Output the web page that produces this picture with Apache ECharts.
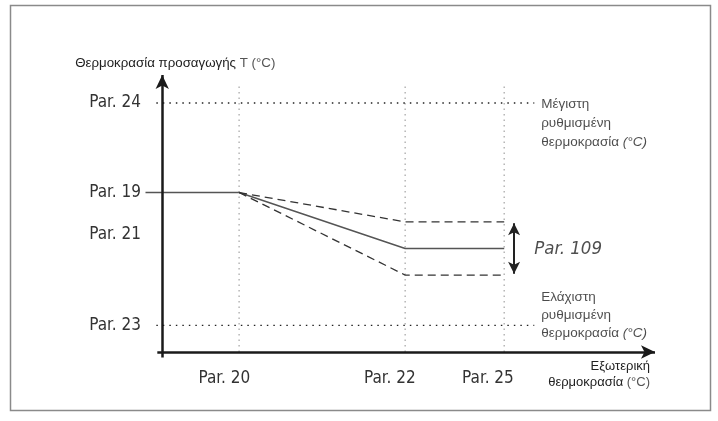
<!DOCTYPE html>
<html>
<head>
<meta charset="utf-8">
<script src="https://cdn.jsdelivr.net/npm/echarts@6/dist/echarts.min.js"></script>
<style>
html,body{margin:0;padding:0;background:#fff;}
#c{width:718px;height:421px;}
</style>
</head>
<body>
<div id="c"></div>
<script>
// ---- data (abstract units) ----
var yTickValues = [89, 57, 42, 9.5];
var yTickLabels = ['Par. 24', 'Par. 19', 'Par. 21', 'Par. 23'];
var xTickValues = [12.6, 46.2, 66.1];
var xTickLabels = ['Par. 20', 'Par. 22', 'Par. 25'];
var xGuides = [15.6, 49.3, 69.4];          // Par.20, Par.22, Par.25 positions
var solidCurve = [[-3.4, 57], [15.6, 57], [49.3, 37], [69.4, 37]];
var upperCurve = [[15.6, 57], [49.3, 46.5], [69.4, 46.5]];
var lowerCurve = [[15.6, 57], [49.3, 27.5], [69.4, 27.5]];
var maxLine = [[-1.2, 89], [75.5, 89]];
var minLine = [[-1.2, 9.5], [75.5, 9.5]];
var bandArrow = [[71.4, 46], [71.4, 28]];
var xAxisLine = [[-1, 0], [100, 0]];
var yAxisLine = [[0, -2], [0, 99]];
var guideTop = 95.4;

var narrow = '"Liberation Sans Narrow","DejaVu Sans Condensed","Roboto Condensed","Liberation Sans",sans-serif';
var sans = '"Liberation Sans",Arial,sans-serif';

function nearestLabel(vals, labels, v) {
  var best = 0;
  for (var i = 1; i < vals.length; i++) if (Math.abs(vals[i] - v) < Math.abs(vals[best] - v)) best = i;
  return labels[best];
}

var series = [];
xGuides.forEach(function (x) {
  series.push({
    type: 'line', data: [[x, 0], [x, guideTop]], symbol: 'none', silent: true,
    lineStyle: { color: '#b5b5b5', width: 1.5, type: [1.5, 4] }
  });
});
[maxLine, minLine].forEach(function (d) {
  series.push({
    type: 'line', data: d, symbol: 'none', silent: true,
    lineStyle: { color: '#222', width: 1.3, type: [1.5, 5] }
  });
});
series.push({
  type: 'line', data: solidCurve, symbol: 'none',
  lineStyle: { color: '#555', width: 1.5 }
});
[upperCurve, lowerCurve].forEach(function (d) {
  series.push({
    type: 'line', data: d, symbol: 'none',
    lineStyle: { color: '#333', width: 1.3, type: [8, 5] }
  });
});
// axes with arrows + Par.109 double arrow
series.push({
  type: 'line', data: [], symbol: 'none', z: 5,
  markLine: {
    silent: true, symbol: ['none', 'arrow'], symbolSize: [10, 14], precision: 4,
    label: { show: false },
    lineStyle: { color: '#1a1a1a', width: 2.5, type: 'solid' },
    data: [
      [{ coord: xAxisLine[0] }, { coord: xAxisLine[1] }],
      [{ coord: yAxisLine[0] }, { coord: yAxisLine[1] }]
    ]
  }
});
series.push({
  type: 'line', data: [], symbol: 'none',
  markLine: {
    silent: true, symbol: ['arrow', 'arrow'], symbolSize: [9, 12], precision: 4,
    label: { show: false },
    lineStyle: { color: '#222', width: 2, type: 'solid' },
    data: [[{ coord: bandArrow[0] }, { coord: bandArrow[1] }]]
  }
});
// text annotations
series.push({
  type: 'scatter', symbolSize: 0, silent: true, clip: false,
  data: [
    { value: [76.9, 92], label: {
      formatter: 'Μέγιστη\nρυθμισμένη\nθερμοκρασία {i|(°C)}', lineHeight: 19 } },
    { value: [76.9, 22.9], label: {
      formatter: 'Ελάχιστη\nρυθμισμένη\nθερμοκρασία {i|(°C)}', lineHeight: 18 } }
  ],
  label: {
    show: true, position: [0, 0], align: 'left', verticalAlign: 'top',
    fontFamily: sans, fontSize: 13.5, color: '#1e1e1e',
    rich: { i: { fontStyle: 'italic', fontFamily: sans, fontSize: 13.5, color: '#1e1e1e' } }
  }
});
series.push({
  type: 'scatter', symbolSize: 0, silent: true, clip: false,
  data: [[75.5, 36.8]],
  label: {
    show: true, position: [0, 0], align: 'left', verticalAlign: 'middle',
    formatter: 'Par. 109', fontFamily: narrow, fontStyle: 'italic', fontSize: 18.5, color: '#222'
  }
});

var option = {
  animation: false,
  backgroundColor: '#fff',
  grid: { left: 145, right: 63, top: 75, bottom: 63.4, containLabel: false },
  graphic: [{
    type: 'rect', shape: { x: 10.5, y: 5.5, width: 700, height: 405 },
    style: { fill: 'none', stroke: '#8a8a8a', lineWidth: 1.5 }, z: -1
  }],
  xAxis: {
    type: 'value', min: -3.5, max: 100,
    axisLine: { show: false },
    axisTick: { show: false },
    splitLine: { show: false },
    axisLabel: {
      customValues: xTickValues, margin: 12,
      fontFamily: narrow, fontSize: 17, color: '#333',
      formatter: function (v) { return nearestLabel(xTickValues, xTickLabels, v); }
    },
    name: 'Εξωτερική\nθερμοκρασία {n|(°C)}', nameLocation: 'end', nameGap: -5,
    nameTextStyle: { align: 'right', verticalAlign: 'top', padding: [6, 0, 0, 0],
      fontFamily: sans, fontSize: 13, color: '#222', lineHeight: 16,
      rich: { n: { fontFamily: sans, fontSize: 13, color: '#555' } } }
  },
  yAxis: {
    type: 'value', min: -2, max: 99,
    axisLine: { show: false },
    axisTick: { show: false },
    splitLine: { show: false },
    axisLabel: {
      customValues: yTickValues, margin: 4,
      fontFamily: narrow, fontSize: 17, color: '#333',
      formatter: function (v) { return nearestLabel(yTickValues, yTickLabels, v); }
    },
    name: 'Θερμοκρασία προσαγωγής {n|T (°C)}', nameLocation: 'end', nameGap: 5,
    nameTextStyle: { align: 'center', padding: [0, 0, 0, 26],
      fontFamily: sans, fontSize: 13.3, color: '#222',
      rich: { n: { fontFamily: sans, fontSize: 13.3, color: '#555' } } }
  },
  series: series
};

var chart = echarts.init(document.getElementById('c'), null, { renderer: 'canvas' });
chart.setOption(option);
</script>
</body>
</html>
